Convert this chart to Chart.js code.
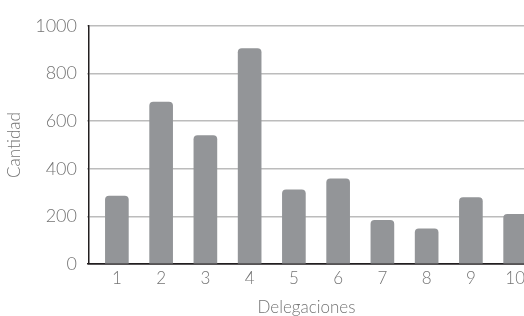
<!DOCTYPE html>
<html>
<head>
<meta charset="utf-8">
<script src="https://cdn.jsdelivr.net/npm/chart.js@4"></script>
<style>
  html, body { margin: 0; padding: 0; background: #fff; overflow: hidden; }
  #wrap { width: 524px; height: 316px; }
</style>
</head>
<body>
<div id="wrap"><canvas id="barChart"></canvas></div>
<script>
// delegaciones y cantidades
const delegaciones = [1, 2, 3, 4, 5, 6, 7, 8, 9, 10];
const cantidades = [285, 680, 540, 905, 312, 358, 183, 148, 279, 209];
const yTicks = [0, 200, 400, 600, 800, 1000];

const textColor = '#747474';
const fontFamily = 'Lato, "Liberation Sans", sans-serif';

const ctx = document.getElementById('barChart').getContext('2d');
const chart = new Chart(ctx, {
    type: 'bar',
    data: {
        datasets: [{
            label: 'Cantidad',
            data: delegaciones.map((d, i) => ({ x: d, y: cantidades[i] })),
            backgroundColor: '#939598',
            borderRadius: { topLeft: 4, topRight: 4 },
            borderSkipped: 'bottom',
            barThickness: 23
        }]
    },
    options: {
        responsive: true,
        maintainAspectRatio: false,
        animation: false,
        layout: { padding: { top: 26, right: 0, left: 0, bottom: 0 } },
        plugins: {
            legend: { display: false },
            tooltip: { enabled: false }
        },
        scales: {
            x: {
                type: 'linear',
                offset: false,
                min: 0.37,
                max: 10.2,
                afterFit: s => { s.height = 52; s.paddingLeft = 0; s.paddingRight = 0; },
                grid: { display: false, drawTicks: false, tickLength: 0 },
                border: { display: true, color: '#231f20', width: 1.5 },
                ticks: {
                    stepSize: 1,
                    includeBounds: false,
                    autoSkip: false,
                    maxRotation: 0,
                    padding: 4,
                    color: textColor,
                    font: { family: fontFamily, size: 17, weight: 300 }
                },
                title: {
                    display: true,
                    text: 'Delegaciones',
                    color: textColor,
                    padding: { top: 4, bottom: -2 },
                    font: { family: fontFamily, size: 17, weight: 300 }
                }
            },
            y: {
                min: 0,
                max: 1000,
                afterFit: s => { s.width = 89; s.paddingTop = 0; s.paddingBottom = 0; },
                afterBuildTicks: s => {
                    s.ticks = [];
                    for (let v = 0; v <= 1000; v += 100) s.ticks.push({ value: v });
                },
                grid: {
                    color: c => c.tick && c.tick.value === 0 ? '#231f20' : '#bcbcbc',
                    lineWidth: 1.5,
                    tickLength: 2
                },
                border: { display: true, color: '#231f20', width: 1.5 },
                ticks: {
                    padding: 10,
                    color: textColor,
                    font: { family: fontFamily, size: 18, weight: 300 },
                    callback: v => yTicks.includes(v) ? String(v) : ''
                },
                title: {
                    display: true,
                    text: 'Cantidad',
                    color: textColor,
                    padding: { bottom: 4 },
                    font: { family: fontFamily, size: 17, weight: 300 }
                }
            }
        }
    }
});
</script>
</body>
</html>
